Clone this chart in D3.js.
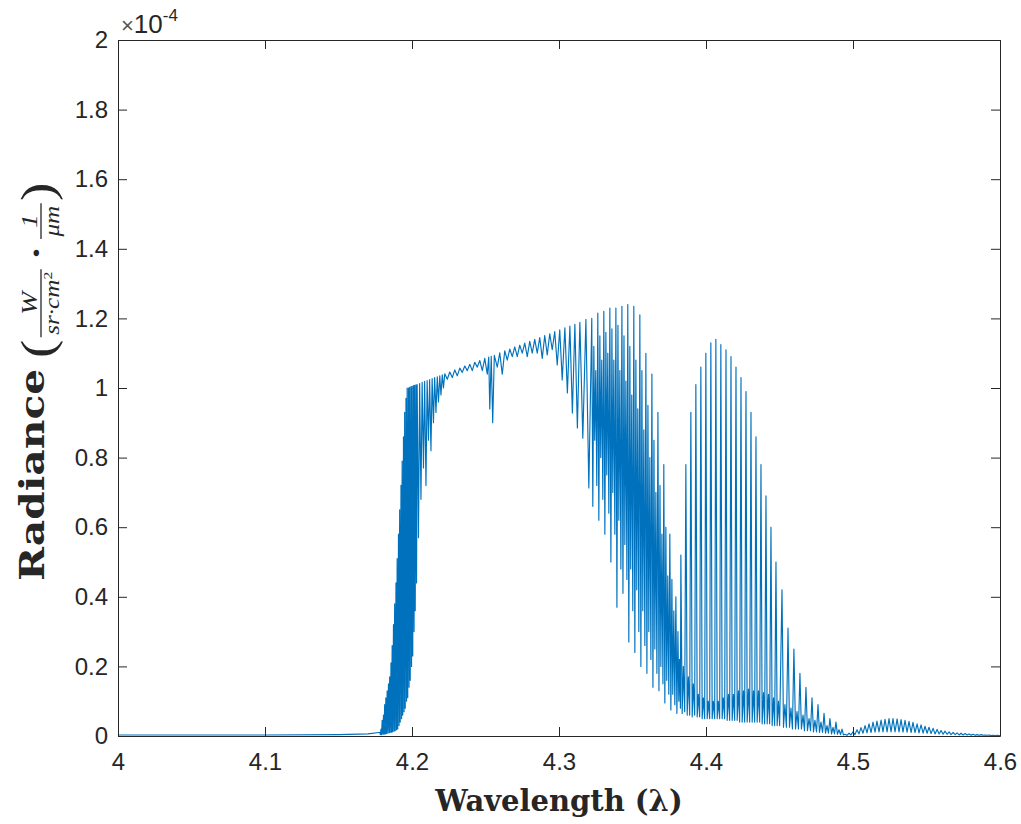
<!DOCTYPE html>
<html>
<head>
<meta charset="utf-8">
<script src="https://cdn.jsdelivr.net/npm/d3@7"></script>
<style>
  body { margin: 0; background: #fff; }
  .axis text { font-family: 'Liberation Sans', Arial, sans-serif; font-size: 24px; fill: #262626; }
  .axis path, .axis line { stroke: #262626; stroke-width: 1; }
</style>
</head>
<body>
<div id="main"></div>
<script>
// spectrum: [wavelength (um), radiance (x1e-4 W/(sr cm2 um))]
const baseline = [
  [4.000,0.003],[4.050,0.003],[4.100,0.003],[4.150,0.004],[4.170,0.006],[4.1775,0.01]
];
const riseBand = [
  [4.1780,0.01],[4.1785,0.004],[4.1789,0.02],[4.1793,0.004],[4.1797,0.045],[4.1802,0.005],
  [4.1806,0.06],[4.1810,0.005],[4.1814,0.09],[4.1818,0.006],[4.1822,0.11],[4.1826,0.007],
  [4.1831,0.13],[4.1835,0.008],[4.1840,0.15],[4.1844,0.009],[4.1848,0.17],[4.1852,0.01],
  [4.1857,0.21],[4.1861,0.011],[4.1865,0.26],[4.1869,0.012],[4.1874,0.32],[4.1878,0.014],
  [4.1882,0.38],[4.1886,0.015],[4.1891,0.44],[4.1895,0.018],[4.1899,0.51],[4.1903,0.02],
  [4.1908,0.58],[4.1912,0.03],[4.1916,0.65],[4.1920,0.04],[4.1925,0.72],[4.1929,0.05],
  [4.1933,0.79],[4.1937,0.06],[4.1942,0.86],[4.1946,0.07],[4.1950,0.93],[4.1954,0.08],
  [4.1959,0.97],[4.1963,0.10],[4.1967,1.0],[4.1971,0.11],[4.1976,1.0],[4.1980,0.14],
  [4.1984,1.002],[4.1988,0.16],[4.1993,1.004],[4.1997,0.20],[4.2001,1.005],[4.2005,0.23],
  [4.2010,1.007],[4.2014,0.30],[4.2018,1.008],[4.2022,0.36],[4.2027,1.009],[4.2031,0.44],
  [4.2035,1.010],[4.2044,0.57],[4.2052,1.013],[4.2061,0.68],[4.2069,1.016],[4.2078,0.77],
  [4.2086,1.019],[4.2095,0.72],[4.2103,1.021],[4.2112,0.85],[4.2120,1.024],[4.2129,0.82],
  [4.2137,1.027],[4.2146,0.90],[4.2154,1.030],[4.2163,0.93],[4.2172,1.032],[4.2180,0.96],
  [4.2189,1.035],[4.2197,0.98],[4.2206,1.038],[4.2214,1.0],[4.2223,1.041]
];
const plateau = [
  [4.2240,1.025],[4.2257,1.046],[4.2274,1.03],[4.2291,1.052],[4.2308,1.035],[4.2325,1.057],
  [4.2342,1.045],[4.2359,1.063],[4.2376,1.05],[4.2393,1.068],[4.2410,1.05],[4.2427,1.074],
  [4.2444,1.06],[4.2461,1.079],[4.2478,1.05],[4.2495,1.085],[4.2512,1.04],[4.2522,1.089],
  [4.2529,0.94],[4.2539,1.091],[4.2549,0.90],[4.2560,1.094],[4.2580,1.06],[4.2597,1.101],
  [4.2614,1.04],[4.2631,1.107],[4.2648,1.08],[4.2665,1.112],[4.2682,1.09],[4.2699,1.118],
  [4.2716,1.09],[4.2733,1.123],[4.2750,1.10],[4.2767,1.129],[4.2784,1.09],[4.2801,1.134],
  [4.2818,1.10],[4.2835,1.140],[4.2852,1.10],[4.2869,1.145],[4.2886,1.085],[4.2903,1.151],
  [4.2920,1.095],[4.2937,1.156],[4.2954,1.11],[4.2971,1.162],[4.2988,1.066],[4.3005,1.167],
  [4.3022,1.023],[4.3040,1.173],[4.3057,0.986],[4.3074,1.178],[4.3091,0.928],[4.3108,1.183],
  [4.3125,0.885],[4.3142,1.189],[4.3162,0.856],[4.3183,1.197],[4.3203,0.713]
];
const firstHump = [
  [4.3223,1.20],[4.3230,0.66],[4.3237,1.12],[4.3243,0.85],[4.3250,1.05],[4.3257,0.72],
  [4.3264,1.215],[4.3271,0.62],[4.3278,1.15],[4.3284,0.80],[4.3291,1.08],[4.3298,0.68],
  [4.3305,1.22],[4.3312,0.58],[4.3319,1.16],[4.3325,0.75],[4.3332,1.10],[4.3339,0.64],
  [4.3346,1.23],[4.3353,0.50],[4.3360,1.17],[4.3366,0.70],[4.3373,1.08],[4.3380,0.58],
  [4.3387,1.23],[4.3394,0.37],[4.3401,1.18],[4.3407,0.62],[4.3414,1.05],[4.3421,0.48],
  [4.3428,1.235],[4.3435,0.41],[4.3442,1.15],[4.3448,0.55],[4.3455,1.02],[4.3462,0.45],
  [4.3468,1.24],[4.3475,0.27],[4.3482,1.12],[4.3488,0.48],[4.3495,0.98],[4.3502,0.36],
  [4.3509,1.235],[4.3516,0.24],[4.3523,1.08],[4.3529,0.42],[4.3536,0.94],[4.3543,0.30],
  [4.3550,1.21],[4.3557,0.20],[4.3564,1.05],[4.3570,0.36],[4.3577,0.88],[4.3584,0.26],
  [4.3591,1.10],[4.3598,0.18],[4.3605,0.95],[4.3611,0.30],[4.3618,0.80],[4.3625,0.22],
  [4.3632,1.04],[4.3639,0.14],[4.3646,0.85],[4.3652,0.25],[4.3659,0.70],[4.3666,0.18],
  [4.3673,0.93],[4.3680,0.13],[4.3687,0.72],[4.3693,0.20],[4.3700,0.58],[4.3707,0.15],
  [4.3713,0.78],[4.3720,0.095],[4.3727,0.60],[4.3733,0.16],[4.3740,0.46],[4.3747,0.12],
  [4.3754,0.58],[4.3761,0.075],[4.3768,0.45],[4.3774,0.12],[4.3781,0.36],[4.3788,0.09],
  [4.3795,0.40],[4.3802,0.065],[4.3809,0.30],[4.3815,0.10],[4.3820,0.22],[4.3826,0.08]
];
const secondHump = [
  [4.3829,0.52],[4.3838,0.065],[4.3846,0.20],[4.3855,0.07],
  [4.3863,0.78],[4.3872,0.06],[4.3880,0.17],[4.3889,0.06],
  [4.3897,0.93],[4.3906,0.055],[4.3914,0.15],[4.3923,0.06],
  [4.3931,1.01],[4.3940,0.055],[4.3948,0.12],[4.3957,0.055],
  [4.3965,1.06],[4.3974,0.05],[4.3982,0.11],[4.3991,0.05],
  [4.3999,1.10],[4.4008,0.05],[4.4016,0.10],[4.4025,0.05],
  [4.4033,1.13],[4.4042,0.05],[4.4050,0.10],[4.4059,0.05],
  [4.4067,1.14],[4.4076,0.05],[4.4084,0.10],[4.4093,0.05],
  [4.4101,1.125],[4.4110,0.05],[4.4118,0.11],[4.4127,0.05],
  [4.4136,1.11],[4.4144,0.045],[4.4153,0.12],[4.4161,0.045],
  [4.4170,1.09],[4.4178,0.045],[4.4187,0.12],[4.4195,0.045],
  [4.4204,1.06],[4.4212,0.045],[4.4221,0.13],[4.4229,0.04],
  [4.4238,1.03],[4.4246,0.04],[4.4255,0.13],[4.4263,0.04],
  [4.4272,0.99],[4.4280,0.04],[4.4289,0.135],[4.4297,0.04],
  [4.4306,0.93],[4.4314,0.04],[4.4323,0.13],[4.4331,0.04],
  [4.4340,0.86],[4.4348,0.04],[4.4357,0.13],[4.4365,0.04],
  [4.4374,0.78],[4.4382,0.035],[4.4391,0.125],[4.4399,0.035],
  [4.4408,0.69],[4.4416,0.035],[4.4425,0.12],[4.4433,0.035],
  [4.4442,0.60],[4.4450,0.03],[4.4459,0.11],[4.4467,0.03],
  [4.4476,0.50],[4.4484,0.03],[4.4493,0.10],[4.4501,0.03],
  [4.4517,0.42],[4.4527,0.025],[4.4537,0.09],[4.4547,0.025],
  [4.4558,0.31],[4.4568,0.025],[4.4578,0.08],[4.4588,0.02],
  [4.4598,0.25],[4.4609,0.02],[4.4619,0.07],[4.4629,0.02],
  [4.4639,0.18],[4.4649,0.02],[4.4660,0.06],[4.4670,0.015],
  [4.4680,0.14],[4.4690,0.015],[4.4701,0.05],[4.4711,0.015],
  [4.4721,0.11],[4.4731,0.012],[4.4741,0.045],[4.4752,0.012],
  [4.4762,0.09],[4.4772,0.01],[4.4782,0.04],[4.4793,0.01],
  [4.4803,0.065],[4.4813,0.008],[4.4823,0.03],[4.4833,0.008],
  [4.4843,0.05],[4.4854,0.006],[4.4864,0.025],[4.4874,0.006],
  [4.4884,0.04],[4.4894,0.005],[4.4905,0.018],[4.4915,0.004],
  [4.4925,0.02],[4.4935,0.003]
];
const tailHump = [
  [4.4946,0.005],[4.4959,0.002],[4.4973,0.008],[4.4986,0.003],[4.5000,0.012],[4.5013,0.004],
  [4.5027,0.018],[4.5041,0.006],[4.5054,0.024],[4.5068,0.008],[4.5082,0.030],[4.5095,0.009],
  [4.5109,0.035],[4.5123,0.010],[4.5136,0.040],[4.5150,0.011],[4.5163,0.043],[4.5177,0.012],
  [4.5191,0.046],[4.5204,0.012],[4.5218,0.048],[4.5232,0.012],[4.5245,0.050],[4.5259,0.012],
  [4.5272,0.050],[4.5286,0.012],[4.5300,0.049],[4.5313,0.012],[4.5327,0.047],[4.5340,0.011],
  [4.5354,0.045],[4.5368,0.011],[4.5381,0.042],[4.5395,0.010],[4.5408,0.039],[4.5422,0.010],
  [4.5436,0.035],[4.5449,0.009],[4.5463,0.032],[4.5477,0.008],[4.5490,0.028],[4.5504,0.008],
  [4.5517,0.025],[4.5531,0.007],[4.5545,0.022],[4.5558,0.006],[4.5572,0.019],[4.5586,0.006],
  [4.5599,0.016],[4.5613,0.005],[4.5626,0.014],[4.5640,0.005],[4.5654,0.012],[4.5667,0.004],
  [4.5681,0.010],[4.5695,0.004],[4.5708,0.009],[4.5722,0.003],[4.5735,0.008],[4.5749,0.003],
  [4.5763,0.007],[4.5776,0.003],[4.5790,0.006],[4.5804,0.002],[4.5817,0.005],[4.5831,0.002],
  [4.5844,0.004],[4.5858,0.002],[4.5872,0.004],[4.5885,0.002],[4.5899,0.003],[4.5912,0.002],
  [4.5926,0.003],[4.5940,0.001],[4.5953,0.002],[4.5967,0.001],[4.5981,0.002],[4.5994,0.001],
  [4.6000,0.001]
];

const xTicks = [4, 4.1, 4.2, 4.3, 4.4, 4.5, 4.6];
const xTickLabels = ['4', '4.1', '4.2', '4.3', '4.4', '4.5', '4.6'];
const yTicks = [0, 0.2, 0.4, 0.6, 0.8, 1, 1.2, 1.4, 1.6, 1.8, 2];
const yTickLabels = ['0', '0.2', '0.4', '0.6', '0.8', '1', '1.2', '1.4', '1.6', '1.8', '2'];

const spectrum = [].concat(baseline, riseBand, plateau, firstHump, secondHump, tailHump);

// layout
const width = 1021, height = 824;
const box = { left: 118, right: 1000, top: 40, bottom: 736 };
const tick = 9;

const svg = d3.select('#main').append('svg')
  .attr('width', width)
  .attr('height', height);

const x = d3.scaleLinear().domain([4, 4.6]).range([box.left, box.right]);
const y = d3.scaleLinear().domain([0, 2]).range([box.bottom, box.top]);

svg.append('clipPath').attr('id', 'clip')
  .append('rect')
  .attr('x', box.left).attr('y', box.top)
  .attr('width', box.right - box.left).attr('height', box.bottom - box.top);

// the spectrum line
svg.append('path')
  .datum(spectrum)
  .attr('clip-path', 'url(#clip)')
  .attr('fill', 'none')
  .attr('stroke', '#0072BD')
  .attr('stroke-width', 1.15)
  .attr('stroke-linejoin', 'round')
  .attr('d', d3.line().x(d => x(d[0])).y(d => y(d[1])));

// axes, ticks pointing inward like matlab
svg.append('g').attr('class', 'axis')
  .attr('transform', `translate(0,${box.bottom})`)
  .call(d3.axisBottom(x).tickValues(xTicks)
    .tickFormat((d, i) => xTickLabels[i])
    .tickSizeInner(-tick).tickSizeOuter(0).tickPadding(17));

svg.append('g').attr('class', 'axis')
  .attr('transform', `translate(${box.left},0)`)
  .call(d3.axisLeft(y).tickValues(yTicks)
    .tickFormat((d, i) => yTickLabels[i])
    .tickSizeInner(-tick).tickSizeOuter(0).tickPadding(10));

svg.append('g').attr('class', 'axis')
  .attr('transform', `translate(0,${box.top})`)
  .call(d3.axisTop(x).tickValues(xTicks).tickFormat('')
    .tickSizeInner(-tick).tickSizeOuter(0));

svg.append('g').attr('class', 'axis')
  .attr('transform', `translate(${box.right},0)`)
  .call(d3.axisRight(y).tickValues(yTicks).tickFormat('')
    .tickSizeInner(-tick).tickSizeOuter(0));

svg.selectAll('.axis .domain').attr('fill', 'none');

// exponent note
const expo = svg.append('text')
  .attr('x', box.left + 3).attr('y', 33)
  .attr('font-family', 'Liberation Sans, Arial, sans-serif')
  .attr('fill', '#262626');
expo.append('tspan').attr('font-size', 22).attr('fill', '#555').text('\u00d7');
expo.append('tspan').attr('font-size', 26).text('10');
expo.append('tspan').attr('font-size', 17).attr('dy', -12).text('-4');

// x label
svg.append('text')
  .attr('x', 559).attr('y', 811)
  .attr('text-anchor', 'middle')
  .attr('font-family', 'DejaVu Serif, serif')
  .attr('font-weight', 'bold')
  .attr('font-size', 29)
  .attr('fill', '#262626')
  .text('Wavelength (\u03bb)');

// y label, laid out along the rotated baseline (stretched along its length as in the picture)
const yl = svg.append('g')
  .attr('transform', 'translate(44,581) rotate(-90) scale(1.2,1)')
  .attr('fill', '#262626');

let pos = 0;
const radiance = yl.append('text')
  .attr('x', pos).attr('y', 0)
  .attr('font-family', 'DejaVu Serif, serif')
  .attr('font-weight', 'bold')
  .attr('font-size', 34)
  .text('Radiance');
pos += radiance.node().getComputedTextLength() + 9;

function paren(ch) {
  const t = yl.append('text')
    .attr('x', pos).attr('y', 9)
    .attr('font-family', 'Liberation Serif, serif')
    .attr('font-size', 46)
    .text(ch);
  pos += t.node().getComputedTextLength() + 2;
}

function fraction(num, den, sup) {
  const n = yl.append('text')
    .attr('y', -7)
    .attr('font-family', 'Liberation Serif, serif')
    .attr('font-style', 'italic')
    .attr('font-size', 23)
    .attr('text-anchor', 'middle')
    .text(num);
  const d = yl.append('text')
    .attr('y', 15)
    .attr('font-family', 'Liberation Serif, serif')
    .attr('font-style', 'italic')
    .attr('font-size', 21)
    .attr('text-anchor', 'middle');
  d.append('tspan').text(den);
  if (sup) d.append('tspan').attr('font-size', 13).attr('dy', -7).attr('font-style', 'normal').text(sup);
  const w = Math.max(n.node().getComputedTextLength(), d.node().getComputedTextLength()) + 4;
  n.attr('x', pos + w / 2);
  d.attr('x', pos + w / 2);
  yl.append('line')
    .attr('x1', pos).attr('x2', pos + w)
    .attr('y1', -3).attr('y2', -3)
    .attr('stroke', '#262626').attr('stroke-width', 1.3);
  pos += w + 2;
}

paren('(');
fraction('W', 'sr\u00b7cm', '2');
pos += 6;
const dot = yl.append('text')
  .attr('x', pos).attr('y', 3)
  .attr('font-family', 'Liberation Serif, serif')
  .attr('font-weight', 'bold')
  .attr('font-size', 34)
  .text('\u00b7');
pos += dot.node().getComputedTextLength() + 6;
fraction('1', '\u03bcm');
paren(')');
</script>
</body>
</html>
